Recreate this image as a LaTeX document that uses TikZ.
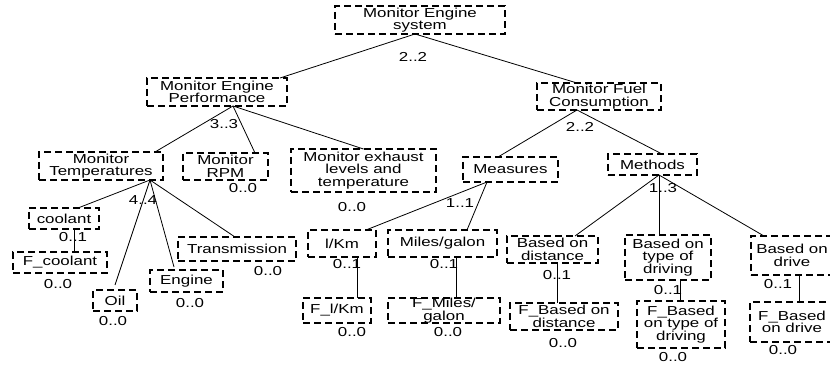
\documentclass[tikz,border=0pt]{standalone}
\usepackage{fontspec}
\setmainfont[FakeStretch=1.3]{Liberation Sans}
\tikzset{
  fbx/.style={draw=black, line width=1.8pt, dash pattern=on 7pt off 4pt, inner sep=0pt, outer sep=0pt, rectangle},
  lbl/.style={font=\fontsize{13}{12.5}\selectfont, align=center, inner sep=0pt, text=black},
  conn/.style={draw=black, line width=0.8pt},
  mult/.style={font=\fontsize{13}{13}\selectfont, inner sep=0pt, text=black}
}
\newcommand\featnode[6]{\node[fbx, minimum width={(#4-#2)*1pt}, minimum height={(#5-#3)*1pt}, label={[lbl]center:#6}] (#1) at ({(#2+#4)/2},{(#3+#5)/2}) {};}
\begin{document}
\begin{tikzpicture}[x=1pt,y=-1pt]
\useasboundingbox (0,0) rectangle (830,366);
\clip (0,0) rectangle (830,366);
\fill[white] (0,0) rectangle (830,366);
% boxes
\featnode{root}{335}{6}{505}{34}{Monitor Engine\\system}
\featnode{perf}{147}{78}{287}{106}{Monitor Engine\\Performance}
\featnode{fuel}{537}{83}{661}{110}{Monitor Fuel\\Consumption}
\featnode{temps}{39}{152}{163}{180}{Monitor\\Temperatures}
\featnode{rpm}{183}{153}{268}{180}{Monitor\\RPM}
\featnode{exhaust}{291}{149}{436}{192}{Monitor exhaust\\levels and\\temperature}
\featnode{measures}{463}{157}{558}{182}{Measures}
\featnode{methods}{608}{154}{697}{175}{Methods}
\featnode{coolant}{29}{208}{99}{229}{coolant}
\featnode{fcoolant}{13}{252}{107}{273}{F\_coolant}
\featnode{oil}{93}{290}{137}{311}{Oil}
\featnode{engine}{150}{270}{223}{292}{Engine}
\featnode{trans}{178}{237}{296}{261}{Transmission}
\featnode{lkm}{308}{230}{376}{257}{l/Km}
\featnode{miles}{388}{230}{497}{257}{Miles/galon}
\featnode{flkm}{303}{298}{371}{323}{F\_l/Km}
\featnode{fmiles}{388}{298}{500}{323}{F\_Miles/\\galon}
\featnode{bdist}{507}{236}{598}{263}{Based on\\distance}
\featnode{fbdist}{510}{303}{618}{330}{F\_Based on\\distance}
\featnode{btype}{625}{235}{711}{280}{Based on\\type of\\driving}
\featnode{fbtype}{637}{301}{725}{348}{F\_Based\\on type of\\driving}
\featnode{bdrive}{751}{236}{833}{275}{Based on\\drive}
\featnode{fbdrive}{750}{302}{834}{342}{F\_Based\\on drive}
% connectors
\draw[conn] ([xshift=-5pt]root.south) -- ([xshift=63pt]perf.north);
\draw[conn] ([xshift=-5pt]root.south) -- ([xshift=-22pt]fuel.north);
\draw[conn] ([xshift=16pt]perf.south) -- ([xshift=54pt]temps.north);
\draw[conn] ([xshift=16pt]perf.south) -- ([xshift=29.5pt]rpm.north);
\draw[conn] ([xshift=16pt]perf.south) -- (exhaust.north);
\draw[conn] ([xshift=-22pt]fuel.south) -- ([xshift=-12.5pt]measures.north);
\draw[conn] ([xshift=-22pt]fuel.south) -- ([xshift=9.5pt]methods.north);
\draw[conn] ([xshift=49pt]temps.south) -- ([xshift=14pt]coolant.north);
\draw[conn] ([xshift=49pt]temps.south) -- ([yshift=5pt]oil.north);
\draw[conn] ([xshift=49pt]temps.south) -- ([xshift=-12.5pt,yshift=3pt]engine.north);
\draw[conn] ([xshift=49pt]temps.south) -- ([xshift=-2pt]trans.north);
\draw[conn] ([xshift=10pt]coolant.south) -- ([xshift=14pt]fcoolant.north);
\draw[conn] ([xshift=-23.5pt]measures.south) -- ([xshift=24pt]lkm.north);
\draw[conn] ([xshift=-23.5pt]measures.south) -- ([xshift=24.5pt]miles.north);
\draw[conn] ([xshift=15pt]lkm.south) -- ([xshift=20pt]flkm.north);
\draw[conn] ([xshift=13.5pt]miles.south) -- ([xshift=12pt]fmiles.north);
\draw[conn] ([xshift=6.5pt]methods.south) -- ([xshift=22.5pt]bdist.north);
\draw[conn] ([xshift=6.5pt]methods.south) -- ([xshift=-9pt]btype.north);
\draw[conn] ([xshift=6.5pt]methods.south) -- ([xshift=-28pt]bdrive.north);
\draw[conn] ([xshift=4.5pt]bdist.south) -- ([xshift=-7pt]fbdist.north);
\draw[conn] ([xshift=12pt]btype.south) -- ([xshift=-1pt]fbtype.north);
\draw[conn] ([xshift=7pt]bdrive.south) -- ([xshift=7pt]fbdrive.north);
% multiplicities
\node[mult] (m-root) at (413,57) {2..2};
\node[mult] (m-perf) at (224,124) {3..3};
\node[mult] (m-fuel) at (580,127) {2..2};
\node[mult] (m-temps) at (143,200) {4..4};
\node[mult] (m-meas) at (460,203) {1..1};
\node[mult] (m-meth) at (663,188) {1..3};
\node[mult] (m-cool) at (73,237) {0..1};
\node[mult] (m-fcool) at (58,284) {0..0};
\node[mult] (m-oil) at (113,321) {0..0};
\node[mult] (m-eng) at (190,303) {0..0};
\node[mult] (m-trans) at (268,271) {0..0};
\node[mult] (m-rpm) at (243,188) {0..0};
\node[mult] (m-exh) at (352,207) {0..0};
\node[mult] (m-lkm) at (347,264) {0..1};
\node[mult] (m-miles) at (444,264) {0..1};
\node[mult] (m-flkm) at (352,332) {0..0};
\node[mult] (m-fmiles) at (448,332) {0..0};
\node[mult] (m-bdist) at (557,275) {0..1};
\node[mult] (m-fbdist) at (563,343) {0..0};
\node[mult] (m-btype) at (668,290) {0..1};
\node[mult] (m-fbtype) at (673,357) {0..0};
\node[mult] (m-bdrive) at (778,284) {0..1};
\node[mult] (m-fbdrive) at (783,350) {0..0};
\end{tikzpicture}
\end{document}
